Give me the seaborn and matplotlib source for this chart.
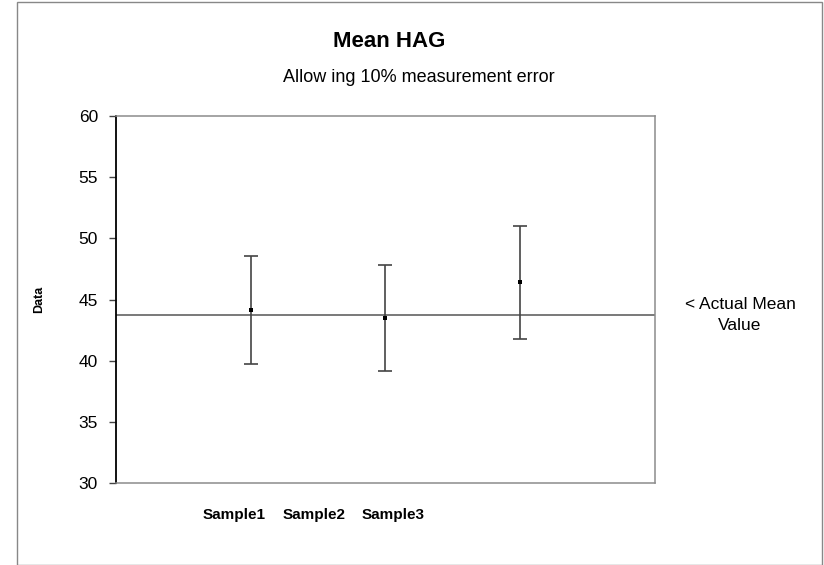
import numpy as np
import pandas as pd
import matplotlib
matplotlib.use("Agg")
import matplotlib.pyplot as plt
import seaborn as sns
from matplotlib.patches import Rectangle

# data
sample_x = [1, 2, 3]
sample_means = [44.15, 43.5, 46.4]
sample_errors = [4.4, 4.35, 4.6]
actual_mean = 43.73
tick_positions = [0.88, 1.47, 2.06]
tick_labels = ["Sample1", "Sample2", "Sample3"]
y_ticks = [30, 35, 40, 45, 50, 55, 60]

sns.set_style("white")
plt.rcParams["font.family"] = ["Liberation Sans", "DejaVu Sans"]
plt.rcParams["text.color"] = "black"
plt.rcParams["xtick.color"] = "black"
plt.rcParams["ytick.color"] = "black"
plt.rcParams["axes.labelcolor"] = "black"

df = pd.DataFrame({"x": sample_x, "mean": sample_means, "err": sample_errors})

fig = plt.figure(figsize=(8.24, 5.65), dpi=100)
ax = fig.add_axes([0.1408, 0.1451, 0.654, 0.6496])

ax.axhline(actual_mean, color="#555555", lw=1.1, zorder=1)
ax.errorbar(df["x"], df["mean"], yerr=df["err"], fmt="none", ecolor="#444444",
            elinewidth=1.2, capsize=5, capthick=1.2, zorder=2)
sns.scatterplot(data=df, x="x", y="mean", marker="s", s=10, color="black",
                edgecolor="black", linewidth=0, ax=ax, zorder=3, legend=False)

ax.set_xlim(0, 4)
ax.set_ylim(30, 60)
ax.set_yticks(y_ticks)
ax.set_yticklabels([str(v) for v in y_ticks], fontsize=12.5)
ax.set_xticks(tick_positions)
ax.set_xticklabels(tick_labels, fontsize=11, fontweight="bold")
ax.tick_params(axis="x", length=0, pad=18)
ax.tick_params(axis="y", left=True, length=5, width=1, color="#444444", direction="out", pad=8)
ax.set_xlabel("")
ax.set_ylabel("Data", fontsize=9, fontweight="bold", labelpad=24)

ax.spines["left"].set_color("black")
ax.spines["left"].set_linewidth(1.3)
for side in ["top", "right", "bottom"]:
    ax.spines[side].set_color("#8c8c8c")
    ax.spines[side].set_linewidth(1.1)

fig.text(0.472, 0.927, "Mean HAG", ha="center", va="center", fontsize=16, fontweight="bold")
fig.text(0.508, 0.862, "Allow ing 10% measurement error", ha="center", va="center", fontsize=13)
fig.text(0.898, 0.442, "< Actual Mean\nValue", ha="center", va="center", fontsize=12.5,
         linespacing=1.5)

fig.patches.append(Rectangle((17 / 824, 0), 1 - 17 / 824 - 0.002, 1 - 2 / 565,
                             transform=fig.transFigure, fill=False,
                             edgecolor="#888888", lw=1))

fig.savefig("out.png", dpi=100)
